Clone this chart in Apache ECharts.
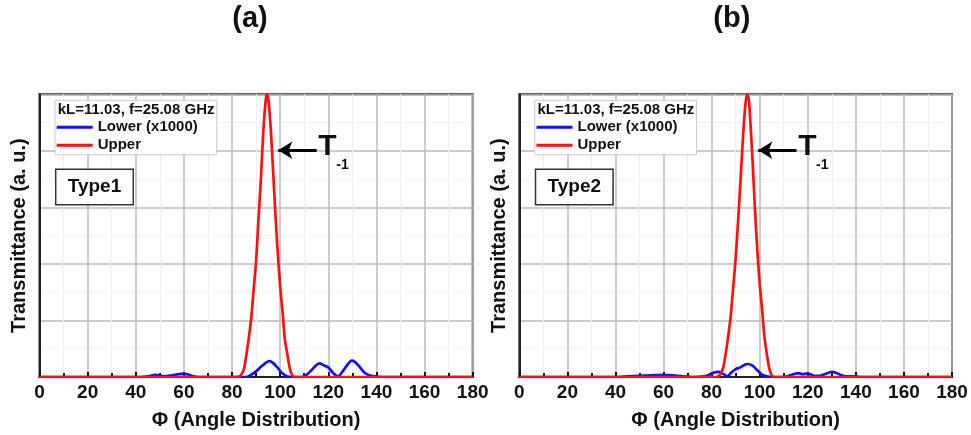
<!DOCTYPE html>
<html>
<head>
<meta charset="utf-8">
<script src="https://cdn.jsdelivr.net/npm/echarts@6/dist/echarts.min.js"></script>
<style>
  html, body { margin: 0; padding: 0; background: #fff; }
  #chart { width: 971px; height: 435px; }
</style>
</head>
<body>
<div id="chart"></div>
<script>
// angle (deg) vs transmittance
var lowerA = [[0,0],[42,0],[45,0.01],[48,0.04],[50,0.03],[52,0.01],[55,0.03],[58,0.05],[60,0.06],[62,0.04],[64,0.01],[66,0],
  [86,0],[88,0.04],[90,0.1],[92,0.18],[94,0.25],[95.5,0.28],[97,0.25],[99,0.16],[101,0.06],[103,0.01],[105,0],
  [109,0],[111,0.04],[113,0.12],[115,0.21],[116.5,0.24],[118,0.21],[120,0.17],[122,0.07],[124,0.01],
  [126,0.1],[128,0.22],[129.7,0.29],[131,0.27],[133,0.18],[135,0.08],[137,0.03],[140,0.01],[142,0],[180,0]];
var upperA = [[0,0],[82,0],[83,0.01],[84,0.05],[85,0.15],[86,0.4],[87,0.7],[88,1.05],[89,1.55],[90,2.05],[91,2.8],
  [92,3.5],[93,4.35],[94,4.9],[94.5,5.0],[95,4.95],[96,4.45],[97,3.7],[98,2.9],[99,2.2],[100,1.6],[101,1.15],
  [102,0.65],[103,0.4],[104,0.15],[105,0.03],[106,0],[180,0]];
var lowerB = [[0,0],[40,0],[45,0.01],[50,0.02],[55,0.03],[60,0.04],[64,0.03],[68,0.01],[72,0],[77,0.01],[79,0.04],
  [81,0.08],[83,0.09],[85,0.05],[86.5,0.01],[88,0.07],[90,0.14],[92,0.17],[94,0.22],[95,0.23],[97,0.2],[99,0.12],
  [101,0.04],[103,0.01],[105,0],[110,0],[112,0.02],[114,0.05],[116,0.07],[118,0.05],[119.5,0.06],[121,0.05],
  [123,0.02],[125,0.02],[127,0.05],[130,0.09],[132,0.07],[134,0.03],[136,0.01],[140,0.01],[142,0],[180,0]];
var upperB = [[0,0],[82,0],[83,0.02],[84,0.07],[85,0.2],[86,0.45],[87,0.75],[88,1.1],[89,1.6],[90,2.1],[91,2.75],
  [92,3.45],[93,4.2],[94,4.8],[94.8,5.0],[95.5,4.9],[96,4.6],[97,3.85],[98,3.0],[99,2.25],[100,1.65],[101,1.2],
  [102,0.7],[103,0.4],[104,0.15],[105,0.03],[106,0],[180,0]];

var panelTitles = ['(a)', '(b)'];
var typeLabels = ['Type1', 'Type2'];
var legendHeader = 'kL=11.03, f=25.08 GHz';
var arrowFrom = [[99.2, 4.01], [99.4, 4.01]];
var arrowTo = [[115.2, 4.01], [115.3, 4.01]];

var FONT = '"Liberation Sans", Arial, sans-serif';
var chart = echarts.init(document.getElementById('chart'));

function xAxisOpt(i) {
  return {
    type: 'value', gridIndex: i, min: 0, max: 180, interval: 20,
    name: 'Φ (Angle Distribution)', nameLocation: 'middle', nameGap: 33,
    nameTextStyle: { fontFamily: FONT, fontWeight: 'bold', fontSize: 20, color: '#111' },
    axisLine: { show: true, lineStyle: { color: '#222', width: 2 } },
    axisTick: { show: true, inside: true, length: 5, lineStyle: { color: '#111', width: 2 } },
    minorTick: { show: true, splitNumber: 2, length: 4, lineStyle: { color: '#111', width: 2 } },
    axisLabel: { fontFamily: FONT, fontWeight: 'bold', fontSize: 19, color: '#111', margin: 6 },
    splitLine: { show: true, lineStyle: { color: '#bbb', width: 1.5 } },
    minorSplitLine: { show: true, lineStyle: { color: '#eee', width: 1 } }
  };
}
function yAxisOpt(i) {
  return {
    type: 'value', gridIndex: i, min: 0, max: 5, interval: 1,
    name: 'Transmittance (a. u.)', nameLocation: 'middle', nameGap: 10,
    nameTextStyle: { fontFamily: FONT, fontWeight: 'bold', fontSize: 20, color: '#111' },
    axisLine: { show: true, lineStyle: { color: '#222', width: 2 } },
    axisTick: { show: false },
    axisLabel: { show: false },
    minorTick: { show: false, splitNumber: 2 },
    splitLine: { show: true, lineStyle: { color: '#bbb', width: 1.5 } },
    minorSplitLine: { show: true, lineStyle: { color: '#e4e4e4', width: 1, type: 'dotted' } }
  };
}
function lineSeries(name, color, data, i) {
  return {
    name: name, type: 'line', xAxisIndex: i, yAxisIndex: i, data: data,
    symbol: 'none', smooth: 0.25, clip: true,
    lineStyle: { color: color, width: 2.7 }, itemStyle: { color: color }
  };
}

var grids = [
  { left: 39.5, right: 498.3, top: 94.3, bottom: 57.7 },
  { left: 519.3, right: 19, top: 94.3, bottom: 57.7 }
];
var series = [];
var graphic = [];
var legends = [];
var lowers = [lowerA, lowerB], uppers = [upperA, upperB];

for (var i = 0; i < 2; i++) {
  grids[i].show = true;
  grids[i].borderColor = '#333';
  grids[i].borderWidth = 2;
  grids[i].backgroundColor = '#fff';
  var dx = grids[i].left - 39.5;
  series.push(lineSeries('Lower (x1000)', '#1010ff', lowers[i], i));
  var up = lineSeries('Upper', '#ff1010', uppers[i], i);
  up.markLine = {
    silent: true, animation: false,
    symbol: ['arrow', 'none'], symbolSize: [13, 14],
    label: { show: false },
    lineStyle: { color: '#000', width: 3, type: 'solid' },
    data: [[{ coord: arrowFrom[i] }, { coord: arrowTo[i] }]]
  };
  series.push(up);

  legends.push({
    data: ['Lower (x1000)', 'Upper'], orient: 'vertical',
    left: 56.7 + dx, top: 118.3, padding: 0, itemGap: 0,
    icon: 'rect', itemWidth: 36, itemHeight: 3,
    textStyle: { fontFamily: FONT, fontWeight: 'bold', fontSize: 15, color: '#111', lineHeight: 18 },
    z: 6
  });

  graphic.push(
    { type: 'text', x: 250 + dx + (i ? 2 : 0), y: 19, z: 10,
      style: { text: panelTitles[i], font: 'bold 29px ' + FONT, fill: '#111', align: 'center', verticalAlign: 'middle' } },
    { type: 'rect', x: 55 + dx, y: 100.3, z: 3,
      shape: { width: 161.7, height: 54.4 }, style: { fill: '#fff', stroke: '#ccc', lineWidth: 1 } },
    { type: 'text', x: 57.7 + dx, y: 110.3, z: 7,
      style: { text: legendHeader, font: 'bold 15px ' + FONT, fill: '#111', verticalAlign: 'middle' } },
    { type: 'rect', x: 55.7 + dx, y: 169.3, z: 3,
      shape: { width: 77.6, height: 35.4 }, style: { fill: '#fff', stroke: '#333', lineWidth: 1.5 } },
    { type: 'text', x: 94.5 + dx, y: 187, z: 7,
      style: { text: typeLabels[i], font: 'bold 19px ' + FONT, fill: '#111', align: 'center', verticalAlign: 'middle' } },
    { type: 'text', x: 327.5 + dx, y: 146.5, z: 7,
      style: { text: 'T', font: 'bold 30px ' + FONT, fill: '#111', align: 'center', verticalAlign: 'middle' } },
    { type: 'text', x: 342.5 + dx, y: 165, z: 7,
      style: { text: '-1', font: 'bold 14px ' + FONT, fill: '#111', align: 'center', verticalAlign: 'middle' } }
  );
}

var option = {
  animation: false,
  backgroundColor: '#fff',
  grid: grids,
  xAxis: [xAxisOpt(0), xAxisOpt(1)],
  yAxis: [yAxisOpt(0), yAxisOpt(1)],
  legend: legends,
  series: series,
  graphic: graphic
};
chart.setOption(option);
</script>
</body>
</html>
